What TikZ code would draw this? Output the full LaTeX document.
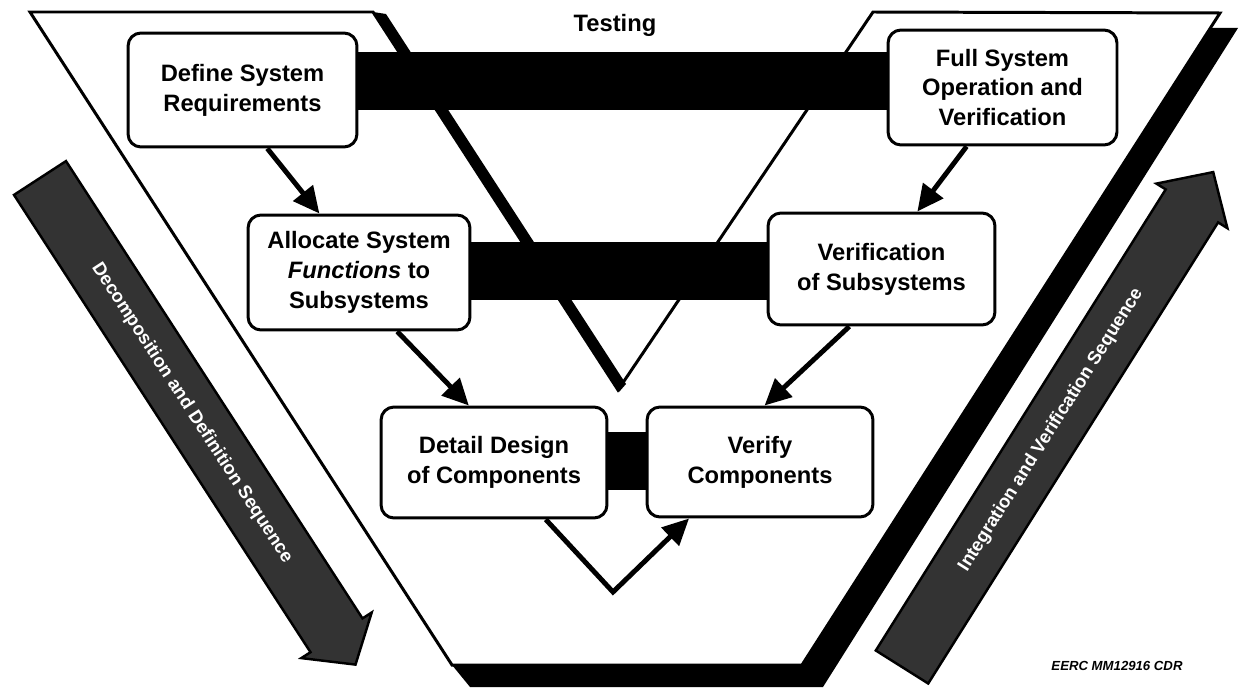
\documentclass[tikz,border=0pt]{standalone}
\usepackage{fontspec}
\setmainfont{Liberation Sans}
\usetikzlibrary{arrows.meta,calc}
\begin{document}
\begin{tikzpicture}[x=0.02cm,y=-0.02cm,
  box/.style={draw, line width=1.7pt, rounded corners=0.26cm, fill=white, align=center, inner sep=0pt, font=\fontsize{13.5}{17}\selectfont\bfseries},
  conn/.style={line width=2.8pt, -{Triangle[length=15pt,width=14pt]}},
  frame/.style={line width=1.7pt, line join=miter},
  bar/.style={fill=black},
  seqarrow/.style={draw, line width=1.4pt, fill=black!80, line join=miter},
  seqtext/.style={text=white, font=\fontsize{10.5}{12}\selectfont\bfseries, inner sep=1pt}]
\useasboundingbox (0,0) rectangle (1240,689);
% shadow of the frame
\fill (1210,28) -- (1238,28) -- (823,687) -- (470,687) -- (452,665) -- (802,665) -- cycle;
% frame
\draw[frame, fill=white] (30,12) -- (373,12) -- (618,390) -- (873,12) -- (1220,13) -- (802,665) -- (452,665) -- cycle;
% thick inner left edge
\fill (373,12) -- (386,14) -- (626,384) -- (619,392) -- cycle;
% label
\node[font=\fontsize{13.5}{17}\selectfont\bfseries] (testing) at (615,25) {Testing};
% nodes
\node[box, minimum width=4.58cm, minimum height=2.28cm] (def) at (242.5,90) {Define System\\Requirements};
\node[box, minimum width=4.58cm, minimum height=2.30cm] (full) at (1002.5,87.5) {Full System\\Operation and\\Verification};
\node[box, minimum width=4.44cm, minimum height=2.30cm] (alloc) at (359,272.5) {Allocate System\\\textit{Functions} to\\Subsystems};
\node[box, minimum width=4.54cm, minimum height=2.24cm] (verif) at (881.5,269) {Verification\\of Subsystems};
\node[box, minimum width=4.52cm, minimum height=2.22cm] (detail) at (494,462.5) {Detail Design\\of Components};
\node[box, minimum width=4.52cm, minimum height=2.20cm] (verify) at (760,462) {Verify\\Components};
% bars
\fill[bar] ($(def.east)+(0,-38)$) rectangle ($(full.west)+(0,22.5)$);
\fill[bar] ($(alloc.east)+(0,-30.5)$) rectangle ($(verif.west)+(0,31)$);
\fill[bar] ($(detail.east)+(0,-30.5)$) rectangle ($(verify.west)+(0,28)$);
% connectors
\draw[conn] ($(def.south west)!0.607!(def.south east)$) -- ($(alloc.north west)!0.324!(alloc.north east)$);
\draw[conn] ($(full.south west)!0.345!(full.south east)$) -- ($(verif.north west)!0.656!(verif.north east)$);
\draw[conn] ($(alloc.south west)!0.67!(alloc.south east)$) -- ($(detail.north west)!0.39!(detail.north east)$);
\draw[conn] ($(verif.south west)!0.36!(verif.south east)$) -- ($(verify.north west)!0.52!(verify.north east)$);
\coordinate (vbend) at (613,592);
\draw[conn, line join=miter] ($(detail.south west)!0.726!(detail.south east)$) -- (vbend) -- ($(verify.south west)!0.19!(verify.south east)$);
% side arrows
\draw[seqarrow] (14,194.9) -- (66,161.1) -- (362.5,618.4) -- (371.7,612.5) -- (355.5,664.6) -- (301.3,658.1) -- (310.5,652.2) -- cycle;
\node[seqtext, rotate=-57] (dds) at (192,413) {Decomposition and Definition Sequence};
\draw[seqarrow] (875.8,650.5) -- (928.2,683.5) -- (1218.1,222.4) -- (1227.4,228.2) -- (1213.2,172.1) -- (1156.4,183.6) -- (1165.7,189.4) -- cycle;
\node[seqtext, rotate=57.8] (ivs) at (1051,430) {Integration and Verification Sequence};
% reference code
\node[font=\fontsize{7.5}{9}\selectfont\bfseries\itshape] (ref) at (1117,666) {EERC MM12916 CDR};
\end{tikzpicture}
\end{document}
